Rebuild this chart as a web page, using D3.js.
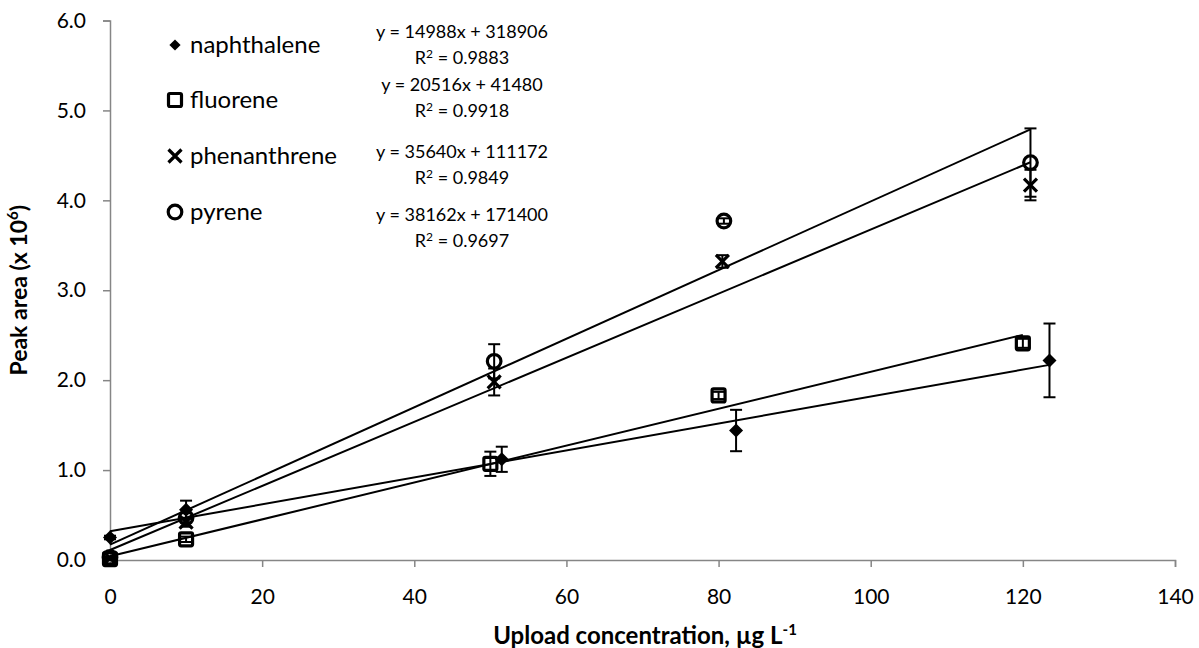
<!DOCTYPE html>
<html>
<head>
<meta charset="utf-8">
<script src="https://cdn.jsdelivr.net/npm/d3@7"></script>
<style>
  html, body { margin: 0; padding: 0; background: #fff; }
  svg { display: block; font-family: Lato, "Open Sans", sans-serif; }
</style>
</head>
<body>
<svg id="chart" width="1199" height="648"></svg>
<script>
// Calibration of four PAHs: peak area vs. upload concentration
const seriesNames = ["naphthalene", "fluorene", "phenanthrene", "pyrene"];
const seriesShapes = ["diamond", "square", "cross", "circle"];

const naphX = [0, 10, 51.5, 82.3, 123.5];
const naphY = [0.25, 0.56, 1.12, 1.44, 2.22];
const naphErr = [0.02, 0.10, 0.14, 0.23, 0.41];

const fluoX = [0, 10, 50, 80, 120];
const fluoY = [0.01, 0.23, 1.07, 1.83, 2.41];
const fluoErr = [0.01, 0.03, 0.135, 0.04, 0.05];

const phenX = [0, 10, 50.5, 80.5, 121];
const phenY = [0.02, 0.42, 1.98, 3.32, 4.17];
const phenErr = [0.01, 0.05, 0.15, 0.07, 0.17];

const pyrX = [0, 10, 50.5, 80.7, 121];
const pyrY = [0.03, 0.47, 2.21, 3.77, 4.42];
const pyrErr = [0.01, 0.05, 0.19, 0.03, 0.38];

// linear fits (peak area = slope * conc + intercept)
const fitSlope = [14988, 20516, 35640, 38162];
const fitIntercept = [318906, 41480, 111172, 171400];
const fitR2 = ["0.9883", "0.9918", "0.9849", "0.9697"];

const xTicks = [0, 20, 40, 60, 80, 100, 120, 140];
const yTicks = [0, 1, 2, 3, 4, 5, 6];

const allX = [naphX, fluoX, phenX, pyrX];
const allY = [naphY, fluoY, phenY, pyrY];
const allErr = [naphErr, fluoErr, phenErr, pyrErr];

const svg = d3.select("#chart");
const plot = { left: 110, right: 1175, top: 20.5, bottom: 560 };

const x = d3.scaleLinear().domain([0, 140]).range([plot.left, plot.right]);
const y = d3.scaleLinear().domain([0, 6]).range([plot.bottom, plot.top]);

const axisColor = "#868686";

// axes
const gx = svg.append("g").attr("transform", `translate(0,${plot.bottom})`)
  .call(d3.axisBottom(x).tickValues(xTicks).tickSize(7).tickSizeOuter(7).tickPadding(22)
    .tickFormat(d3.format("d")));
const gy = svg.append("g").attr("transform", `translate(${plot.left},0)`)
  .call(d3.axisLeft(y).tickValues(yTicks).tickSize(7).tickSizeOuter(7).tickPadding(17)
    .tickFormat(d3.format(".1f")));
[gx, gy].forEach(g => {
  g.select(".domain").attr("stroke", axisColor).attr("stroke-width", 1.5);
  g.selectAll(".tick line").attr("stroke", axisColor).attr("stroke-width", 1.5);
  g.selectAll(".tick text").attr("fill", "#000").style("font-size", "21px")
    .style("font-family", "Lato, 'Open Sans', sans-serif");
});

// axis titles
svg.append("text")
  .attr("x", 645).attr("y", 644)
  .attr("text-anchor", "middle").style("font-size", "24px").style("font-weight", "bold")
  .html('Upload concentration, µg L<tspan dy="-9" font-size="15px">-1</tspan>');

svg.append("text")
  .attr("transform", `translate(27,${(plot.top + plot.bottom) / 2}) rotate(-90)`)
  .attr("text-anchor", "middle").style("font-size", "23px").style("font-weight", "bold")
  .html('Peak area (x 10<tspan dy="-9" font-size="15px">6</tspan><tspan dy="9">)</tspan>');

// trendlines
seriesNames.forEach((name, i) => {
  const xMax = d3.max(allX[i]);
  const f = v => (fitSlope[i] * v + fitIntercept[i]) / 1e6;
  svg.append("line")
    .attr("x1", x(0)).attr("y1", y(f(0)))
    .attr("x2", x(xMax)).attr("y2", y(f(xMax)))
    .attr("stroke", "#000").attr("stroke-width", 2);
});

// marker drawing
function drawMarker(g, shape, cx, cy, s = 1) {
  if (shape === "diamond") {
    const r = 7 * s;
    g.append("path").attr("d", `M${cx},${cy - r}L${cx + r},${cy}L${cx},${cy + r}L${cx - r},${cy}Z`)
      .attr("fill", "#000");
  } else if (shape === "square") {
    const h = 6.5;
    g.append("rect").attr("x", cx - h).attr("y", cy - h).attr("width", 2 * h).attr("height", 2 * h)
      .attr("rx", 1.5).attr("fill", "none").attr("stroke", "#000").attr("stroke-width", 3.2);
  } else if (shape === "circle") {
    g.append("circle").attr("cx", cx).attr("cy", cy).attr("r", 6.8)
      .attr("fill", "none").attr("stroke", "#000").attr("stroke-width", 3.2);
  } else if (shape === "cross") {
    const h = 6.5;
    g.append("path").attr("d", `M${cx - h},${cy - h}L${cx + h},${cy + h}M${cx + h},${cy - h}L${cx - h},${cy + h}`)
      .attr("stroke", "#000").attr("stroke-width", 3.2).attr("fill", "none");
  }
}

// error bars and points
seriesNames.forEach((name, i) => {
  const g = svg.append("g");
  allX[i].forEach((xv, j) => {
    const yv = allY[i][j], e = allErr[i][j];
    const px = x(xv);
    const yTop = y(yv + e), yBot = y(Math.max(0, yv - e));
    g.append("line").attr("x1", px).attr("x2", px).attr("y1", yTop).attr("y2", yBot)
      .attr("stroke", "#000").attr("stroke-width", 2);
    [yTop, yBot].forEach(yy => g.append("line")
      .attr("x1", px - 6).attr("x2", px + 6).attr("y1", yy).attr("y2", yy)
      .attr("stroke", "#000").attr("stroke-width", 2));
    drawMarker(g, seriesShapes[i], px, y(yv));
  });
});

// legend
const legendY = [45, 100, 156, 212];
seriesNames.forEach((name, i) => {
  const g = svg.append("g");
  drawMarker(g, seriesShapes[i], 175, legendY[i], 0.8);
  g.append("text").attr("x", 190).attr("y", legendY[i]).attr("dy", "0.35em")
    .style("font-size", "24px").text(name);
});

// fit equations
const eqY = [32, 85, 152, 215];
const fmt = d3.format("d");
seriesNames.forEach((name, i) => {
  const cx = 462;
  svg.append("text").attr("x", cx).attr("y", eqY[i]).attr("dy", "0.35em")
    .attr("text-anchor", "middle").style("font-size", "18px")
    .text(`y = ${fmt(fitSlope[i])}x + ${fmt(fitIntercept[i])}`);
  svg.append("text").attr("x", cx).attr("y", eqY[i] + 26).attr("dy", "0.35em")
    .attr("text-anchor", "middle").style("font-size", "18px")
    .html(`R<tspan dy="-6" font-size="12px">2</tspan><tspan dy="6"> = ${fitR2[i]}</tspan>`);
});
</script>
</body>
</html>
